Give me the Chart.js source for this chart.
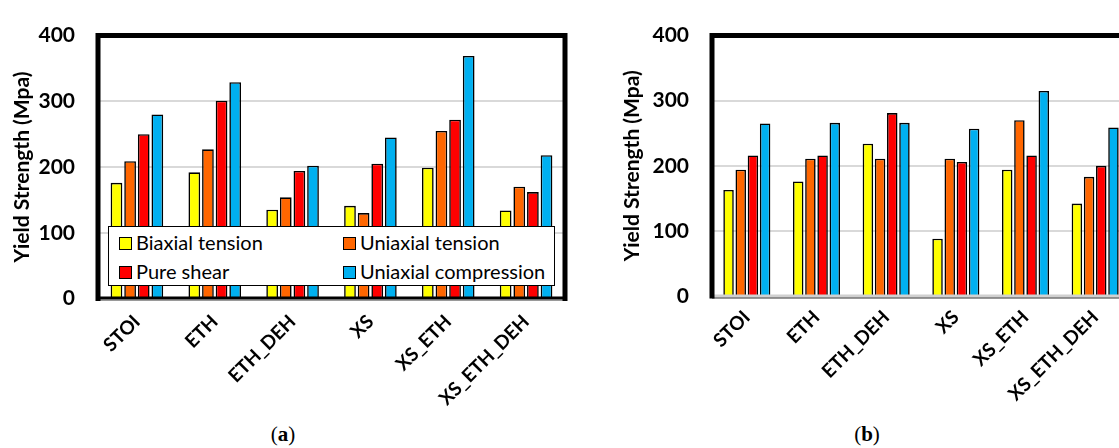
<!DOCTYPE html>
<html>
<head>
<meta charset="utf-8">
<script src="https://cdn.jsdelivr.net/npm/chart.js@4.4.1/dist/chart.umd.min.js"></script>
<style>
  html, body { margin:0; padding:0; background:#fff; width:1119px; height:448px; overflow:hidden; position:relative; }
  canvas { position:absolute; }
  #cA { left:0px; top:0px; }
  #cB { left:612px; top:0px; }
  .legend { position:absolute; left:108px; top:226px; width:445px; height:58px; border:1.5px solid #000; background:#fff; z-index:5; font-family:Lato, sans-serif; font-size:20px; color:#000; }
  .li { position:absolute; white-space:nowrap; line-height:22px; }
  .li span.sw { display:inline-block; width:11px; height:11px; border:1.5px solid #000; vertical-align:middle; margin-right:4px; position:relative; top:-1px; }
  .cap { position:absolute; top:422px; font-family:"Liberation Serif", serif; font-size:21px; color:#000; transform:translateX(-50%); }
</style>
</head>
<body>
<canvas id="cA" width="580" height="420"></canvas>
<canvas id="cB" width="528" height="420"></canvas>
<div class="legend" id="legA"></div>
<div class="cap" style="left:283px;">(<b>a</b>)</div>
<div class="cap" style="left:867px;">(<b>b</b>)</div>
<script>
const categories = ['STOI', 'ETH', 'ETH_DEH', 'XS', 'XS_ETH', 'XS_ETH_DEH'];
const seriesNames = ['Biaxial tension', 'Uniaxial tension', 'Pure shear', 'Uniaxial compression'];
const seriesColors = ['#FFFF00', '#FF6600', '#FF0000', '#00B0F0'];
const yTicks = [0, 100, 200, 300, 400];
const yTitle = 'Yield Strength (Mpa)';

// Panel (a)
const aBiaxial     = [176, 192, 135, 141, 199, 134];
const aUniaxialT   = [209, 227, 154, 130, 255, 170];
const aPureShear   = [250, 301, 194, 205, 272, 162];
const aUniaxialC   = [280, 329, 202, 245, 369, 218];
// Panel (b)
const bBiaxial     = [163, 176, 234,  88, 194, 142];
const bUniaxialT   = [194, 211, 211, 211, 270, 183];
const bPureShear   = [216, 216, 281, 206, 216, 200];
const bUniaxialC   = [265, 266, 266, 257, 315, 259];

function makeDatasets(arrs) {
  return arrs.map((d, i) => ({
    label: seriesNames[i],
    data: d,
    backgroundColor: seriesColors[i],
    borderColor: '#000',
    borderWidth: 1.6,
    categoryPercentage: 0.70,
    barPercentage: 0.86
  }));
}

function framePlugin(kind) {
  return {
    id: 'frame' + kind,
    afterDatasetsDraw(chart) {
      const { ctx, chartArea: { left, right, top, bottom } } = chart;
      ctx.save();
      if (kind === 'a') {
        ctx.strokeStyle = '#000';
        ctx.lineWidth = 3;
        ctx.beginPath(); ctx.moveTo(left, bottom - 0.5); ctx.lineTo(right, bottom - 0.5); ctx.stroke();
        ctx.strokeStyle = '#9a9a9a';
        ctx.lineWidth = 1.2;
        ctx.beginPath(); ctx.moveTo(left, bottom + 2); ctx.lineTo(right + 2, bottom + 2); ctx.stroke();
      } else {
        ctx.strokeStyle = '#d0d0d0';
        ctx.lineWidth = 3;
        ctx.beginPath(); ctx.moveTo(left, bottom); ctx.lineTo(right, bottom); ctx.stroke();
        ctx.strokeStyle = '#333';
        ctx.lineWidth = 1.2;
        ctx.beginPath(); ctx.moveTo(left, bottom + 2); ctx.lineTo(right, bottom + 2); ctx.stroke();
      }
      ctx.strokeStyle = '#000';
      ctx.lineWidth = 5;
      ctx.lineJoin = 'miter';
      ctx.beginPath();
      ctx.moveTo(left, bottom + 2.5);
      ctx.lineTo(left, top);
      ctx.lineTo(right, top);
      ctx.lineTo(right, bottom + 2.5);
      ctx.stroke();
      ctx.restore();
    }
  };
}

function makeChart(id, arrs, opts) {
  return new Chart(document.getElementById(id), {
    type: 'bar',
    data: { labels: categories, datasets: makeDatasets(arrs) },
    options: {
      responsive: false,
      animation: false,
      devicePixelRatio: 1,
      layout: { padding: { top: opts.padTop, right: opts.padRight, left: 0, bottom: 0 } },
      plugins: { legend: { display: false }, tooltip: { enabled: false } },
      scales: {
        x: {
          grid: { display: false, drawTicks: false },
          border: { display: false },
          ticks: {
            maxRotation: 45, minRotation: 45, autoSkip: false,
            color: '#000', padding: opts.xPad,
            font: { family: 'Lato', weight: 'bold', size: 19 }
          },
          afterFit: (s) => { s.height = opts.xHeight; }
        },
        y: {
          min: 0, max: 400,
          afterBuildTicks: (s) => { s.ticks = yTicks.map(v => ({ value: v })); },
          grid: { color: '#d9d9d9', lineWidth: 2, drawTicks: false },
          border: { display: false },
          ticks: {
            color: '#000', padding: opts.yPad,
            font: { family: 'Lato', weight: 'bold', size: 21 }
          },
          title: {
            display: true, text: yTitle, color: '#000',
            font: { family: 'Lato', weight: 'bold', size: 21 },
            padding: { top: opts.titlePad, bottom: 0 }
          },
          afterFit: (s) => { s.width = opts.yWidth; }
        }
      }
    },
    plugins: [framePlugin(opts.kind)]
  });
}

makeChart('cA', [aBiaxial, aUniaxialT, aPureShear, aUniaxialC],
  { kind: 'a', padTop: 27, padRight: 15, xHeight: 121.5, yWidth: 98, yPad: 23, titlePad: 10, xPad: 12 });
makeChart('cB', [bBiaxial, bUniaxialT, bPureShear, bUniaxialC],
  { kind: 'b', padTop: 29, padRight: 10, xHeight: 124, yWidth: 100, yPad: 23, titlePad: 8, xPad: 10 });

// HTML legend for panel (a)
const leg = document.getElementById('legA');
const pos = [[10, 4], [234, 4], [10, 33], [234, 33]];
seriesNames.forEach((n, i) => {
  const d = document.createElement('div');
  d.className = 'li';
  d.style.left = pos[i][0] + 'px';
  d.style.top = pos[i][1] + 'px';
  const sw = document.createElement('span');
  sw.className = 'sw';
  sw.style.background = seriesColors[i];
  d.appendChild(sw);
  d.appendChild(document.createTextNode(n));
  leg.appendChild(d);
});
</script>
</body>
</html>
